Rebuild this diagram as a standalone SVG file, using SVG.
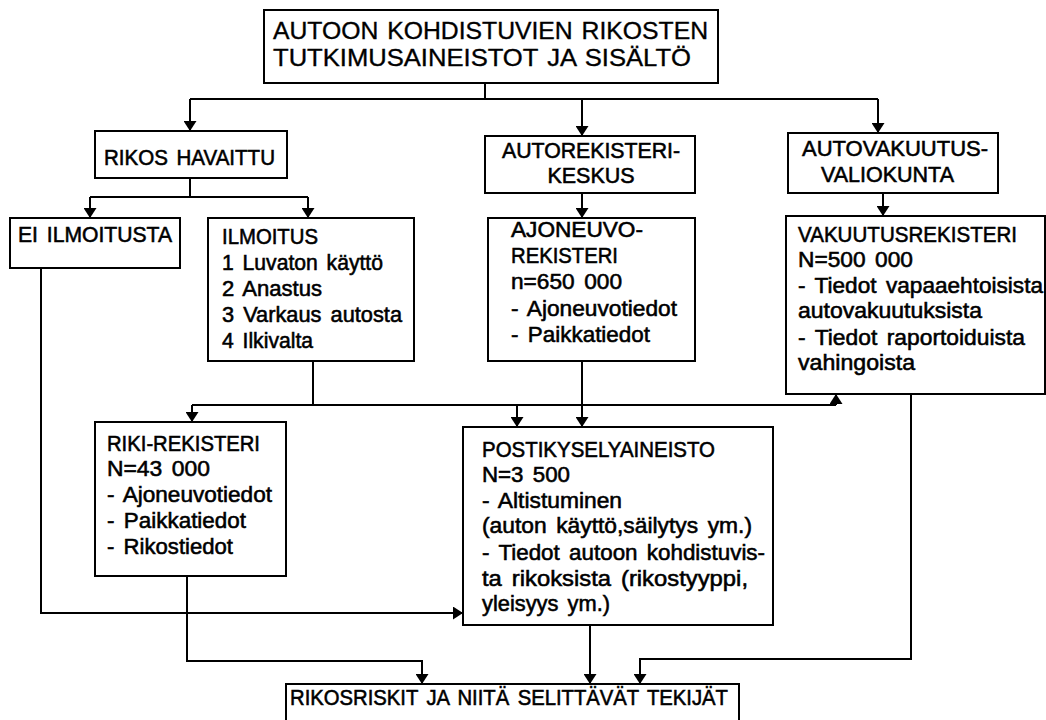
<svg xmlns="http://www.w3.org/2000/svg" width="1046" height="720" viewBox="0 0 1046 720">
<style>
.box{fill:#fff;stroke:#000;stroke-width:2}
.t{font-family:"Liberation Sans",Arial,sans-serif;font-size:21.5px;word-spacing:3px;fill:#000;stroke:#000;stroke-width:0.55px}
.tt{font-family:"Liberation Sans",Arial,sans-serif;font-size:24.5px;word-spacing:2px;fill:#000;stroke:#000;stroke-width:0.35px}
.c{fill:none;stroke:#000;stroke-width:2}
.a{marker-end:url(#ah)}
</style>
<defs>
<marker id="ah" viewBox="0 0 10 13" refX="10" refY="6.5" markerWidth="10" markerHeight="13" orient="auto" markerUnits="userSpaceOnUse">
<path d="M0,0 L10,6.5 L0,13 z" fill="#000"/>
</marker>
</defs>
<rect width="1046" height="720" fill="#fff"/>
<g id="connectors">
<path class="c" d="M485,83 V99 M190,99 H878"/>
<path class="c a" d="M190,99 V131"/>
<path class="c a" d="M582,99 V136"/>
<path class="c a" d="M878,99 V133"/>
<path class="c" d="M190,178 V197 M90,197 H308"/>
<path class="c a" d="M90,197 V218"/>
<path class="c a" d="M308,197 V218"/>
<path class="c a" d="M582,193 V218"/>
<path class="c a" d="M883,193 V216"/>
<path class="c" d="M313,361 V405 M192,405 H836"/>
<path class="c a" d="M192,405 V422"/>
<path class="c a" d="M517,405 V427"/>
<path class="c a" d="M836,405 V394"/>
<path class="c a" d="M582,361 V427"/>
<path class="c a" d="M41,268 V613 H463"/>
<path class="c a" d="M187,576 V661 H422 V684"/>
<path class="c a" d="M590,625 V684"/>
<path class="c a" d="M911,394 V659 H640 V684"/>
</g>
<g id="title">
<rect class="box" x="264" y="10" width="454" height="73"/>
<text class="tt" x="273" y="39" textLength="435" lengthAdjust="spacingAndGlyphs">AUTOON KOHDISTUVIEN RIKOSTEN</text>
<text class="tt" x="273" y="66" textLength="418" lengthAdjust="spacingAndGlyphs">TUTKIMUSAINEISTOT JA SISÄLTÖ</text>
</g>
<g id="rikos-havaittu">
<rect class="box" x="95" y="131" width="192" height="47"/>
<text class="t" x="104" y="165" textLength="171" lengthAdjust="spacingAndGlyphs">RIKOS HAVAITTU</text>
</g>
<g id="autorekisterikeskus">
<rect class="box" x="485" y="136" width="210" height="57"/>
<text class="t" x="502" y="158" textLength="178" lengthAdjust="spacingAndGlyphs">AUTOREKISTERI-</text>
<text class="t" x="591" y="183" text-anchor="middle">KESKUS</text>
</g>
<g id="autovakuutusvaliokunta">
<rect class="box" x="788" y="133" width="210" height="60"/>
<text class="t" x="802" y="156" textLength="186" lengthAdjust="spacingAndGlyphs">AUTOVAKUUTUS-</text>
<text class="t" x="821" y="182" textLength="133" lengthAdjust="spacingAndGlyphs">VALIOKUNTA</text>
</g>
<g id="ei-ilmoitusta">
<rect class="box" x="10" y="218" width="170" height="50"/>
<text class="t" x="18" y="242" textLength="154" lengthAdjust="spacingAndGlyphs">EI ILMOITUSTA</text>
</g>
<g id="ilmoitus">
<rect class="box" x="208" y="218" width="206" height="143"/>
<text class="t" x="222" y="244" textLength="96" lengthAdjust="spacingAndGlyphs">ILMOITUS</text>
<text class="t" x="222" y="270" textLength="161" lengthAdjust="spacingAndGlyphs">1 Luvaton käyttö</text>
<text class="t" x="222" y="296" textLength="100" lengthAdjust="spacingAndGlyphs">2 Anastus</text>
<text class="t" x="222" y="322" textLength="180" lengthAdjust="spacingAndGlyphs">3 Varkaus autosta</text>
<text class="t" x="222" y="348" textLength="91" lengthAdjust="spacingAndGlyphs">4 Ilkivalta</text>
</g>
<g id="ajoneuvorekisteri">
<rect class="box" x="488" y="218" width="207" height="143"/>
<text class="t" x="511" y="237" textLength="132" lengthAdjust="spacingAndGlyphs">AJONEUVO-</text>
<text class="t" x="511" y="263" textLength="107" lengthAdjust="spacingAndGlyphs">REKISTERI</text>
<text class="t" x="511" y="289" textLength="111" lengthAdjust="spacingAndGlyphs">n=650 000</text>
<text class="t" x="511" y="316" textLength="166" lengthAdjust="spacingAndGlyphs">- Ajoneuvotiedot</text>
<text class="t" x="511" y="342" textLength="139" lengthAdjust="spacingAndGlyphs">- Paikkatiedot</text>
</g>
<g id="vakuutusrekisteri">
<rect class="box" x="786" y="216" width="259" height="178"/>
<text class="t" x="798" y="242" textLength="219" lengthAdjust="spacingAndGlyphs">VAKUUTUSREKISTERI</text>
<text class="t" x="798" y="267" textLength="115" lengthAdjust="spacingAndGlyphs">N=500 000</text>
<text class="t" x="798" y="293" textLength="245" lengthAdjust="spacingAndGlyphs">- Tiedot vapaaehtoisista</text>
<text class="t" x="798" y="318" textLength="184" lengthAdjust="spacingAndGlyphs">autovakuutuksista</text>
<text class="t" x="798" y="345" textLength="227" lengthAdjust="spacingAndGlyphs">- Tiedot raportoiduista</text>
<text class="t" x="798" y="370" textLength="117" lengthAdjust="spacingAndGlyphs">vahingoista</text>
</g>
<g id="riki-rekisteri">
<rect class="box" x="95" y="422" width="191" height="154"/>
<text class="t" x="107" y="451" textLength="153" lengthAdjust="spacingAndGlyphs">RIKI-REKISTERI</text>
<text class="t" x="107" y="476" textLength="103" lengthAdjust="spacingAndGlyphs">N=43 000</text>
<text class="t" x="107" y="502" textLength="165" lengthAdjust="spacingAndGlyphs">- Ajoneuvotiedot</text>
<text class="t" x="107" y="528" textLength="139" lengthAdjust="spacingAndGlyphs">- Paikkatiedot</text>
<text class="t" x="107" y="554" textLength="126" lengthAdjust="spacingAndGlyphs">- Rikostiedot</text>
</g>
<g id="postikyselyaineisto">
<rect class="box" x="463" y="427" width="310" height="198"/>
<text class="t" x="482" y="457" textLength="233" lengthAdjust="spacingAndGlyphs">POSTIKYSELYAINEISTO</text>
<text class="t" x="482" y="482" textLength="88" lengthAdjust="spacingAndGlyphs">N=3 500</text>
<text class="t" x="482" y="508" textLength="140" lengthAdjust="spacingAndGlyphs">- Altistuminen</text>
<text class="t" x="482" y="533" textLength="270" lengthAdjust="spacingAndGlyphs">(auton käyttö,säilytys ym.)</text>
<text class="t" x="482" y="560" textLength="283" lengthAdjust="spacingAndGlyphs">- Tiedot autoon kohdistuvis-</text>
<text class="t" x="482" y="586" textLength="266" lengthAdjust="spacingAndGlyphs">ta rikoksista (rikostyyppi,</text>
<text class="t" x="482" y="611" textLength="128" lengthAdjust="spacingAndGlyphs">yleisyys ym.)</text>
</g>
<g id="rikosriskit">
<rect class="box" x="286" y="684" width="453" height="50"/>
<text class="t" x="290" y="705" textLength="438" lengthAdjust="spacingAndGlyphs">RIKOSRISKIT JA NIITÄ SELITTÄVÄT TEKIJÄT</text>
</g>
</svg>
